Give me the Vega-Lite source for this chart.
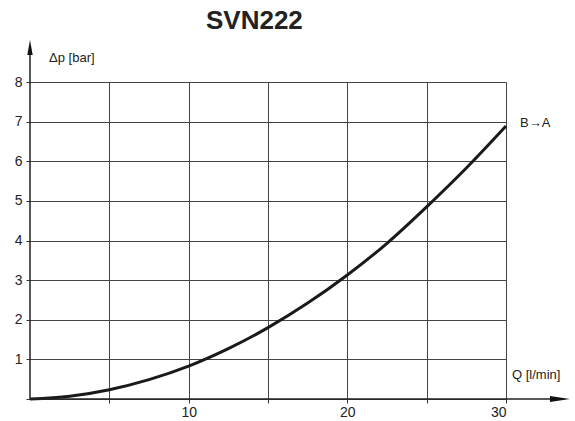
{
  "$schema": "https://vega.github.io/schema/vega-lite/v6.json",
  "width": 476,
  "height": 317,
  "autosize": {"type": "none"},
  "padding": {"left": 30, "top": 82, "right": 69, "bottom": 22},
  "background": "white",
  "config": {"view": {"stroke": null}, "font": "Liberation Sans"},
  "datasets": {
    "curve": [
      {"Q": 0, "dp": 0},
      {"Q": 2.5, "dp": 0.07},
      {"Q": 5, "dp": 0.235},
      {"Q": 7.5, "dp": 0.49},
      {"Q": 10, "dp": 0.83},
      {"Q": 12.5, "dp": 1.27},
      {"Q": 15, "dp": 1.8},
      {"Q": 17.5, "dp": 2.42},
      {"Q": 20, "dp": 3.13},
      {"Q": 22.5, "dp": 3.93},
      {"Q": 25, "dp": 4.85},
      {"Q": 27.5, "dp": 5.83},
      {"Q": 30, "dp": 6.89}
    ],
    "one": [{}]
  },
  "layer": [
    {
      "data": {"name": "curve"},
      "mark": {"type": "line", "interpolate": "monotone", "color": "#1a1a1a", "strokeWidth": 3},
      "encoding": {
        "x": {
          "field": "Q", "type": "quantitative",
          "scale": {"domain": [0, 30], "nice": false, "zero": false},
          "axis": {
            "values": [5, 10, 15, 20, 25, 30],
            "tickCount": 20,
            "format": "d",
            "labelExpr": "datum.value % 10 == 0 ? datum.label : ''",
            "labelOverlap": false,
            "grid": true, "gridColor": "#444", "gridWidth": 1, "gridOpacity": 1,
            "domain": false, "ticks": true, "tickSize": 4, "tickColor": "#333", "tickWidth": 1,
            "labelFontSize": 14, "labelColor": "#222", "labelPadding": 2, "labelFont": "Liberation Sans",
            "title": null
          }
        },
        "y": {
          "field": "dp", "type": "quantitative",
          "scale": {"domain": [0, 8], "nice": false, "zero": false},
          "axis": {
            "values": [0, 1, 2, 3, 4, 5, 6, 7, 8],
            "tickCount": 20,
            "format": "d",
            "labelExpr": "datum.value == 0 ? '' : datum.label",
            "labelOverlap": false,
            "grid": true, "gridColor": "#444", "gridWidth": 1, "gridOpacity": 1,
            "domain": false, "ticks": true, "tickSize": 4, "tickColor": "#333", "tickWidth": 1,
            "labelFontSize": 14, "labelColor": "#222", "labelPadding": 4, "labelFont": "Liberation Sans",
            "title": null
          }
        }
      }
    },
    {
      "data": {"name": "one"},
      "mark": {"type": "rule", "color": "#222", "strokeWidth": 1.5},
      "encoding": {
        "x": {"datum": 0, "type": "quantitative"},
        "y": {"datum": 0, "type": "quantitative"},
        "y2": {"datum": 8.8}
      }
    },
    {
      "data": {"name": "one"},
      "mark": {"type": "rule", "color": "#222", "strokeWidth": 1.5},
      "encoding": {
        "x": {"datum": 0, "type": "quantitative"},
        "x2": {"datum": 32.9},
        "y": {"datum": 0, "type": "quantitative"}
      }
    },
    {
      "data": {"name": "one"},
      "mark": {"type": "point", "shape": "M0,-1L0.36,1L-0.36,1Z", "size": 225, "filled": true, "color": "#111", "opacity": 1},
      "encoding": {
        "x": {"datum": 0, "type": "quantitative"},
        "y": {"datum": 8.87, "type": "quantitative"}
      }
    },
    {
      "data": {"name": "one"},
      "mark": {"type": "point", "shape": "M1,0L-1,-0.3L-1,0.3Z", "size": 400, "filled": true, "color": "#111", "opacity": 1},
      "encoding": {
        "x": {"datum": 33.4, "type": "quantitative"},
        "y": {"datum": 0, "type": "quantitative"}
      }
    },
    {
      "data": {"name": "one"},
      "mark": {"type": "text", "text": "SVN222", "align": "left", "baseline": "alphabetic", "fontSize": 26, "fontWeight": "bold", "fill": "#222", "font": "Liberation Sans"},
      "encoding": {
        "x": {"datum": 11.09, "type": "quantitative"},
        "y": {"datum": 9.34, "type": "quantitative"}
      }
    },
    {
      "data": {"name": "one"},
      "mark": {"type": "text", "text": "Δp [bar]", "align": "left", "baseline": "middle", "fontSize": 13, "fill": "#222", "font": "Liberation Sans"},
      "encoding": {
        "x": {"datum": 1.2, "type": "quantitative"},
        "y": {"datum": 8.6, "type": "quantitative"}
      }
    },
    {
      "data": {"name": "one"},
      "mark": {"type": "text", "text": "Q [l/min]", "align": "left", "baseline": "middle", "fontSize": 13, "fill": "#222", "font": "Liberation Sans"},
      "encoding": {
        "x": {"datum": 30.38, "type": "quantitative"},
        "y": {"datum": 0.61, "type": "quantitative"}
      }
    },
    {
      "data": {"name": "one"},
      "mark": {"type": "text", "text": "B→A", "align": "left", "baseline": "middle", "fontSize": 13, "fill": "#222", "font": "Liberation Sans"},
      "encoding": {
        "x": {"datum": 30.88, "type": "quantitative"},
        "y": {"datum": 6.97, "type": "quantitative"}
      }
    }
  ]
}
